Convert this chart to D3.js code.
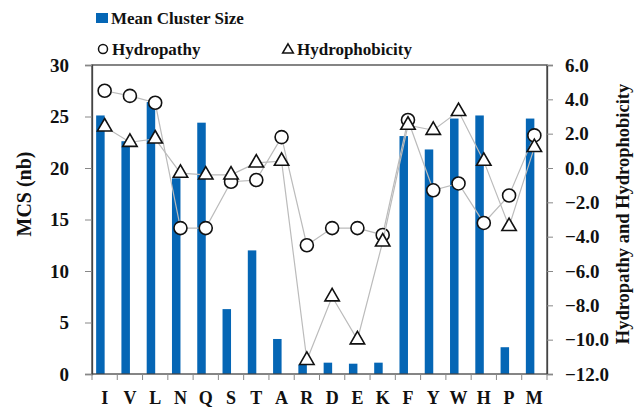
<!DOCTYPE html>
<html><head><meta charset="utf-8">
<script src="https://cdn.jsdelivr.net/npm/d3@7"></script>
<style>body{margin:0;background:#fff}svg{display:block}text{font-family:"Liberation Serif","Times New Roman",serif;font-weight:bold}</style>
</head><body><svg id="c" width="641" height="407"></svg>
<script>
const categories = ["I","V","L","N","Q","S","T","A","R","D","E","K","F","Y","W","H","P","M"];
const mcs = [25.1,22.6,26.4,19.0,24.4,6.3,12.0,3.4,0.9,1.1,1.0,1.1,23.1,21.8,24.8,25.1,2.6,24.8];
const hydropathy = [4.5,4.2,3.8,-3.5,-3.5,-0.8,-0.7,1.8,-4.5,-3.5,-3.5,-3.9,2.8,-1.3,-0.9,-3.2,-1.6,1.9];
const hydrophobicity = [2.4,1.5,1.7,-0.3,-0.4,-0.4,0.3,0.4,-11.2,-7.5,-10.0,-4.3,2.5,2.2,3.3,0.4,-3.4,1.2];
const leftTicks = [0,5,10,15,20,25,30];
const rightTicks = [-12,-10,-8,-6,-4,-2,0,2,4,6];

const svg = d3.select("#c");
const L = 92, R = 547, T = 65, B = 374;
const x = d3.scaleBand().domain(categories).range([L, R]);
const yL = d3.scaleLinear().domain([0, 30]).range([B, T]);
const yR = d3.scaleLinear().domain([-12, 6]).range([B, T]);
const cx = d => x(d) + x.bandwidth() / 2;
const blue = "#0566b5";
const ink = "#111";

// bars
svg.append("g").selectAll("rect").data(categories).join("rect")
  .attr("x", d => cx(d) - 8.5).attr("width", 8.5)
  .attr("y", (d, i) => yL(mcs[i])).attr("height", (d, i) => B - yL(mcs[i]))
  .attr("fill", blue);

// frame
svg.append("rect").attr("x", L).attr("y", T).attr("width", R - L).attr("height", B - T)
  .attr("fill", "none").attr("stroke", "#444").attr("stroke-width", 1.3);

// left axis
const gl = svg.append("g").attr("transform", `translate(${L},0)`)
  .call(d3.axisLeft(yL).tickValues(leftTicks).tickSize(7).tickPadding(16).tickFormat(d3.format("d")));
gl.select(".domain").attr("stroke", "#444").attr("stroke-width", 1.3);
gl.selectAll(".tick line").attr("stroke", "#888");
gl.selectAll(".tick text").attr("font-size", 19).attr("fill", ink).attr("font-family", '"Liberation Serif",serif');

// right axis
const gr = svg.append("g").attr("transform", `translate(${R},0)`)
  .call(d3.axisRight(yR).tickValues(rightTicks).tickSize(6).tickPadding(12).tickFormat(d3.format(".1f")));
gr.select(".domain").attr("stroke", "#444").attr("stroke-width", 1.3);
gr.selectAll(".tick line").attr("stroke", "#888");
gr.selectAll(".tick text").attr("font-size", 19).attr("fill", ink).attr("font-family", '"Liberation Serif",serif');

// bottom axis ticks at band boundaries
const bounds = categories.map(d => x(d)).concat([R]);
svg.append("g").selectAll("line").data(bounds).join("line")
  .attr("x1", d => d).attr("x2", d => d).attr("y1", B).attr("y2", B + 6)
  .attr("stroke", "#888");
svg.append("g").selectAll("text").data(categories).join("text")
  .attr("x", d => cx(d)).attr("y", 404).attr("text-anchor", "middle")
  .attr("font-size", 18).attr("fill", ink).text(d => d);

// lines and markers
const line = arr => d3.line().x((d, i) => cx(categories[i])).y(d => yR(d))(arr);
svg.append("path").attr("d", line(hydropathy)).attr("fill", "none").attr("stroke", "#bbb").attr("stroke-width", 1.2);
svg.append("g").selectAll("circle").data(hydropathy).join("circle")
  .attr("cx", (d, i) => cx(categories[i])).attr("cy", d => yR(d)).attr("r", 6.5)
  .attr("fill", "#fff").attr("stroke", ink).attr("stroke-width", 1.6);
svg.append("path").attr("d", line(hydrophobicity)).attr("fill", "none").attr("stroke", "#bbb").attr("stroke-width", 1.2);
const tri = d3.symbol().type(d3.symbolTriangle).size(90);
svg.append("g").selectAll("path").data(hydrophobicity).join("path")
  .attr("d", tri).attr("transform", (d, i) => `translate(${cx(categories[i])},${yR(d)})`)
  .attr("fill", "#fff").attr("stroke", ink).attr("stroke-width", 1.6);

// legend
svg.append("rect").attr("x", 96).attr("y", 13).attr("width", 12).attr("height", 10).attr("fill", blue);
svg.append("text").attr("x", 111).attr("y", 24).attr("font-size", 17).attr("fill", ink).text("Mean Cluster Size");
svg.append("circle").attr("cx", 103).attr("cy", 49).attr("r", 4.5).attr("fill", "#fff").attr("stroke", ink).attr("stroke-width", 1.5);
svg.append("text").attr("x", 112).attr("y", 55).attr("font-size", 17).attr("fill", ink).text("Hydropathy");
svg.append("path").attr("d", d3.symbol().type(d3.symbolTriangle).size(50)).attr("transform", "translate(288,50)")
  .attr("fill", "#fff").attr("stroke", ink).attr("stroke-width", 1.5);
svg.append("text").attr("x", 297).attr("y", 55).attr("font-size", 17).attr("fill", ink).text("Hydrophobicity");

// axis titles
svg.append("text").attr("transform", "translate(31,194) rotate(-90)").attr("text-anchor", "middle")
  .attr("font-size", 20).attr("fill", ink).text("MCS (nb)");
svg.append("text").attr("transform", "translate(629,214) rotate(-90)").attr("text-anchor", "middle")
  .attr("font-size", 18.5).attr("fill", ink).text("Hydropathy and Hydrophobicity");
</script></body></html>
